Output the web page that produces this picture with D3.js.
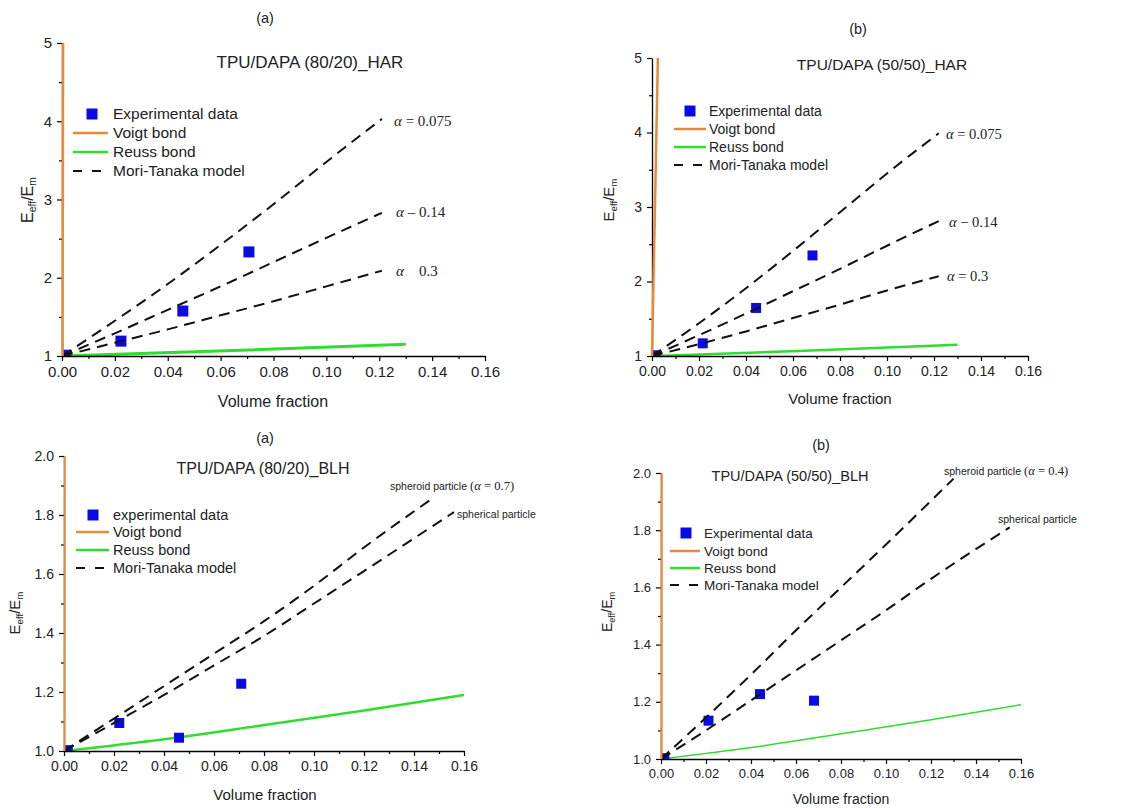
<!DOCTYPE html>
<html><head><meta charset="utf-8">
<script src="https://cdn.jsdelivr.net/npm/d3@7"></script>
<style>
body{margin:0;background:#fff;}
svg{display:block;font-family:"Liberation Sans",Arial,sans-serif;}
</style>
</head><body>
<svg id="chart" width="1121" height="808"></svg>
<script>
// ---------------- DATA ----------------
const xMajorTicks = [0, 0.02, 0.04, 0.06, 0.08, 0.10, 0.12, 0.14, 0.16];
const xMinorTicks = [0.01, 0.03, 0.05, 0.07, 0.09, 0.11, 0.13, 0.15];
const yMajorHAR = [1, 2, 3, 4, 5];
const yMinorHAR = [1.5, 2.5, 3.5, 4.5];
const yMajorBLH = [1.0, 1.2, 1.4, 1.6, 1.8, 2.0];
const yMinorBLH = [1.1, 1.3, 1.5, 1.7, 1.9];

const legendLabels = ["Experimental data", "Voigt bond", "Reuss bond", "Mori-Tanaka model"];
const legendLabelsLower = ["experimental data", "Voigt bond", "Reuss bond", "Mori-Tanaka model"];

// (a) TPU/DAPA (80/20)_HAR
const expHAR8020 = [[0.0015, 1.01], [0.0223, 1.19], [0.0457, 1.575], [0.0707, 2.33]];
const voigtHAR8020 = [[0.0002, 1], [0.0004, 5]];
const reussHAR8020 = [[0, 1], [0.065, 1.07], [0.13, 1.15]];
const mt075HAR8020 = [[0, 1], [0.02, 1.45], [0.04, 1.92], [0.06, 2.42], [0.08, 2.94], [0.10, 3.48], [0.121, 4.03]];
const mt014HAR8020 = [[0, 1], [0.02, 1.29], [0.04, 1.59], [0.06, 1.89], [0.08, 2.20], [0.10, 2.51], [0.121, 2.83]];
const mt03HAR8020 = [[0, 1], [0.02, 1.17], [0.04, 1.34], [0.06, 1.52], [0.08, 1.70], [0.10, 1.89], [0.121, 2.09]];

// (b) TPU/DAPA (50/50)_HAR
const expHAR5050 = [[0.0015, 1.01], [0.0216, 1.17], [0.0443, 1.645], [0.0683, 2.35]];
const voigtHAR5050 = [[0, 1], [0.0025, 5]];
const reussHAR5050 = [[0, 1], [0.065, 1.07], [0.13, 1.15]];
const mt075HAR5050 = [[0, 1], [0.02, 1.44], [0.04, 1.91], [0.06, 2.41], [0.08, 2.93], [0.10, 3.45], [0.122, 3.99]];
const mt014HAR5050 = [[0, 1], [0.02, 1.28], [0.04, 1.57], [0.06, 1.87], [0.08, 2.17], [0.10, 2.48], [0.122, 2.81]];
const mt03HAR5050 = [[0, 1], [0.02, 1.16], [0.04, 1.33], [0.06, 1.51], [0.08, 1.69], [0.10, 1.88], [0.122, 2.07]];

// (a) TPU/DAPA (80/20)_BLH
const expBLH8020 = [[0.0015, 1.003], [0.0221, 1.095], [0.046, 1.045], [0.0709, 1.228]];
const voigtBLH8020 = [[0.0002, 1], [0.0003, 2]];
const reussBLH8020 = [[0, 1], [0.04, 1.04], [0.08, 1.088], [0.12, 1.137], [0.16, 1.19]];
const mtSpheroidBLH8020 = [[0, 1], [0.02, 1.11], [0.04, 1.22], [0.06, 1.33], [0.08, 1.44], [0.10, 1.56], [0.12, 1.69], [0.148, 1.86]];
const mtSphericalBLH8020 = [[0, 1], [0.02, 1.095], [0.04, 1.19], [0.06, 1.29], [0.08, 1.39], [0.10, 1.50], [0.12, 1.61], [0.156, 1.81]];

// (b) TPU/DAPA (50/50)_BLH
const expBLH5050 = [[0.0015, 1.003], [0.0211, 1.134], [0.044, 1.227], [0.068, 1.204]];
const voigtBLH5050 = [[0.0002, 1], [0.0003, 2]];
const reussBLH5050 = [[0, 1], [0.04, 1.04], [0.08, 1.088], [0.12, 1.137], [0.16, 1.19]];
const mtSpheroidBLH5050 = [[0, 1], [0.02, 1.145], [0.04, 1.295], [0.06, 1.45], [0.08, 1.60], [0.10, 1.75], [0.13, 1.98]];
const mtSphericalBLH5050 = [[0, 1], [0.02, 1.10], [0.04, 1.205], [0.06, 1.31], [0.08, 1.415], [0.10, 1.52], [0.12, 1.63], [0.155, 1.81]];

// ---------------- LAYOUT / STYLE ----------------
const BLUE = "#0a0ae6", ORANGE = "#e8893c", GREEN = "#2fdc2f";
const SERIF = "'Liberation Serif','Times New Roman',serif";

const panels = [
  {
    left: 62, right: 485, top: 43, bottom: 356, yDomain: [1, 5],
    yMajor: yMajorHAR, yMinor: yMinorHAR, yFmt: d3.format("d"),
    tickFs: 15, letter: "(a)", letterPos: [265, 23], title: "TPU/DAPA (80/20)_HAR", titlePos: [310, 68], titleFs: 17,
    legend: { sq: [92, 114], lx1: 73, lx2: 108, tx: 113, ys: [114, 133, 152, 171], fs: 15.5, labels: legendLabels },
    xLabelPos: [273, 407], yLabelPos: [27, 200], axisFs: 16,
    exp: expHAR8020, voigt: voigtHAR8020, reuss: reussHAR8020,
    mt: [mt075HAR8020, mt014HAR8020, mt03HAR8020],
    voigtW: 2.5, reussW: 3, msize: 11,
    notes: [
      { kind: "alpha", pos: [394, 126], rest: " = 0.075", fs: 15 },
      { kind: "alpha", pos: [396, 217], rest: " \u2013 0.14", fs: 15 },
      { kind: "alpha", pos: [396, 276], rest: "    0.3", fs: 15 }
    ]
  },
  {
    left: 652, right: 1028, top: 58, bottom: 356, yDomain: [1, 5],
    yMajor: yMajorHAR, yMinor: yMinorHAR, yFmt: d3.format("d"),
    tickFs: 14, letter: "(b)", letterPos: [858, 34], title: "TPU/DAPA (50/50)_HAR", titlePos: [882, 70], titleFs: 15.5,
    legend: { sq: [690, 111], lx1: 674, lx2: 706, tx: 709, ys: [111, 129, 147, 165], fs: 14, labels: legendLabels },
    xLabelPos: [840, 404], yLabelPos: [609, 200], axisFs: 15,
    exp: expHAR5050, voigt: voigtHAR5050, reuss: reussHAR5050,
    mt: [mt075HAR5050, mt014HAR5050, mt03HAR5050],
    voigtW: 2.5, reussW: 2.5, msize: 10,
    notes: [
      { kind: "alpha", pos: [946, 139], rest: " = 0.075", fs: 14.5 },
      { kind: "alpha", pos: [949, 227], rest: " \u2212 0.14", fs: 14.5 },
      { kind: "alpha", pos: [947, 281], rest: " = 0.3", fs: 14.5 }
    ]
  },
  {
    left: 64, right: 464, top: 456, bottom: 751, yDomain: [1, 2],
    yMajor: yMajorBLH, yMinor: yMinorBLH, yFmt: d3.format(".1f"),
    tickFs: 14, letter: "(a)", letterPos: [265, 443], title: "TPU/DAPA (80/20)_BLH", titlePos: [263, 474], titleFs: 16,
    legend: { sq: [93, 515], lx1: 76, lx2: 109, tx: 113, ys: [515, 532, 550, 568], fs: 14.5, labels: legendLabelsLower },
    xLabelPos: [265, 800], yLabelPos: [15, 613], axisFs: 15,
    exp: expBLH8020, voigt: voigtBLH8020, reuss: reussBLH8020,
    mt: [mtSpheroidBLH8020, mtSphericalBLH8020],
    voigtW: 2, reussW: 2.5, msize: 10,
    notes: [
      { kind: "spheroid", pos: [390, 490], alphaText: " = 0.7)", fs: 10.5 },
      { kind: "plain", pos: [457, 518], text: "spherical particle", fs: 10.5 }
    ]
  },
  {
    left: 661, right: 1021, top: 473, bottom: 759, yDomain: [1, 2],
    yMajor: yMajorBLH, yMinor: yMinorBLH, yFmt: d3.format(".1f"),
    tickFs: 13, letter: "(b)", letterPos: [821, 450], title: "TPU/DAPA (50/50)_BLH", titlePos: [790, 481], titleFs: 14.5,
    legend: { sq: [686, 533], lx1: 670, lx2: 700, tx: 704, ys: [533, 551, 568, 585], fs: 13.5, labels: legendLabels },
    xLabelPos: [841, 804], yLabelPos: [607, 612], axisFs: 14,
    exp: expBLH5050, voigt: voigtBLH5050, reuss: reussBLH5050,
    mt: [mtSpheroidBLH5050, mtSphericalBLH5050],
    voigtW: 2, reussW: 1.5, msize: 10,
    notes: [
      { kind: "spheroid", pos: [944, 475], alphaText: " = 0.4)", fs: 10.5 },
      { kind: "plain", pos: [998, 523], text: "spherical particle", fs: 10.5 }
    ]
  }
];

const svg = d3.select("#chart");

panels.forEach((p, i) => {
  const x = d3.scaleLinear().domain([0, 0.16]).range([p.left, p.right]);
  const y = d3.scaleLinear().domain(p.yDomain).range([p.bottom, p.top]);
  const g = svg.append("g");

  const clipId = "clip" + i;
  svg.append("clipPath").attr("id", clipId).append("rect")
    .attr("x", p.left).attr("y", p.top - 2).attr("width", p.right - p.left + 2).attr("height", p.bottom - p.top + 2);

  const line = d3.line().x(d => x(d[0])).y(d => y(d[1])).curve(d3.curveMonotoneX);
  const plot = g.append("g").attr("clip-path", `url(#${clipId})`);

  // Reuss (green)
  plot.append("path").datum(p.reuss).attr("d", line)
    .attr("fill", "none").attr("stroke", GREEN).attr("stroke-width", p.reussW);

  // Experimental markers
  plot.selectAll("rect.exp").data(p.exp).enter().append("rect")
    .attr("x", d => x(d[0]) - p.msize / 2).attr("y", d => y(d[1]) - p.msize / 2)
    .attr("width", p.msize).attr("height", p.msize).attr("fill", BLUE);

  // Mori-Tanaka dashed curves
  p.mt.forEach(s => {
    plot.append("path").datum(s).attr("d", line)
      .attr("fill", "none").attr("stroke", "#111").attr("stroke-width", 2)
      .attr("stroke-dasharray", "11,7");
  });

  // Axes
  const xAxis = g.append("g").attr("transform", `translate(0,${p.bottom})`)
    .call(d3.axisBottom(x).tickValues(xMajorTicks).tickFormat(d3.format(".2f")).tickSize(5).tickSizeOuter(0).tickPadding(5));
  xAxis.append("g").call(d3.axisBottom(x).tickValues(xMinorTicks).tickFormat("").tickSize(3).tickSizeOuter(0))
    .select(".domain").remove();
  const yAxis = g.append("g").attr("transform", `translate(${p.left},0)`)
    .call(d3.axisLeft(y).tickValues(p.yMajor).tickFormat(p.yFmt).tickSize(5).tickSizeOuter(0).tickPadding(5));
  yAxis.append("g").call(d3.axisLeft(y).tickValues(p.yMinor).tickFormat("").tickSize(3).tickSizeOuter(0))
    .select(".domain").remove();
  [xAxis, yAxis].forEach(a => {
    a.selectAll("text").attr("font-size", p.tickFs).attr("font-family", "'Liberation Sans',Arial,sans-serif").attr("fill", "#222");
    a.selectAll("path.domain").attr("stroke", "#000").attr("stroke-width", 1.3);
    a.selectAll("line").attr("stroke", "#000").attr("stroke-width", 1.2);
  });

  // Voigt (orange), drawn over the axis line as in the reference
  g.append("path").datum(p.voigt).attr("d", d3.line().x(d => x(d[0])).y(d => y(d[1])))
    .attr("fill", "none").attr("stroke", ORANGE).attr("stroke-width", p.voigtW);

  // Letter and title
  g.append("text").attr("x", p.letterPos[0]).attr("y", p.letterPos[1]).attr("text-anchor", "middle")
    .attr("font-size", 14.5).attr("fill", "#222").text(p.letter);
  g.append("text").attr("x", p.titlePos[0]).attr("y", p.titlePos[1]).attr("text-anchor", "middle")
    .attr("font-size", p.titleFs).attr("fill", "#222").text(p.title);

  // Axis labels
  g.append("text").attr("x", p.xLabelPos[0]).attr("y", p.xLabelPos[1]).attr("text-anchor", "middle")
    .attr("font-size", p.axisFs).attr("fill", "#222").text("Volume fraction");
  const yl = g.append("text").attr("transform", `translate(${p.yLabelPos[0]},${p.yLabelPos[1]}) rotate(-90)`)
    .attr("text-anchor", "middle").attr("font-size", p.axisFs).attr("fill", "#222").attr("dy", "0.35em");
  yl.append("tspan").text("E");
  yl.append("tspan").attr("font-size", p.axisFs * 0.65).attr("dy", 3).text("eff");
  yl.append("tspan").attr("dy", -3).text("/E");
  yl.append("tspan").attr("font-size", p.axisFs * 0.65).attr("dy", 3).text("m");

  // Legend
  const L = p.legend;
  g.append("rect").attr("x", L.sq[0] - 5.5).attr("y", L.sq[1] - 5.5).attr("width", 11).attr("height", 11).attr("fill", BLUE);
  g.append("line").attr("x1", L.lx1).attr("x2", L.lx2).attr("y1", L.ys[1]).attr("y2", L.ys[1])
    .attr("stroke", ORANGE).attr("stroke-width", 2.5);
  g.append("line").attr("x1", L.lx1).attr("x2", L.lx2).attr("y1", L.ys[2]).attr("y2", L.ys[2])
    .attr("stroke", GREEN).attr("stroke-width", 2.5);
  g.append("line").attr("x1", L.lx1).attr("x2", L.lx2).attr("y1", L.ys[3]).attr("y2", L.ys[3])
    .attr("stroke", "#111").attr("stroke-width", 2.2).attr("stroke-dasharray", "9,10");
  L.labels.forEach((t, k) => {
    g.append("text").attr("x", L.tx).attr("y", L.ys[k]).attr("dy", "0.35em")
      .attr("font-size", L.fs).attr("fill", "#222").text(t);
  });

  // Annotations
  p.notes.forEach(n => {
    if (n.kind === "alpha") {
      const t = g.append("text").attr("x", n.pos[0]).attr("y", n.pos[1]).attr("font-family", SERIF)
        .attr("font-size", n.fs).attr("fill", "#222");
      t.append("tspan").attr("font-style", "italic").text("\u03b1");
      t.append("tspan").attr("xml:space", "preserve").style("white-space", "pre").text(n.rest);
    } else if (n.kind === "spheroid") {
      const t = g.append("text").attr("x", n.pos[0]).attr("y", n.pos[1]).attr("font-size", n.fs).attr("fill", "#222");
      t.append("tspan").text("spheroid particle ");
      t.append("tspan").attr("font-family", SERIF).attr("font-size", n.fs * 1.2).text("(");
      t.append("tspan").attr("font-family", SERIF).attr("font-style", "italic").attr("font-size", n.fs * 1.2).text("\u03b1");
      t.append("tspan").attr("font-family", SERIF).attr("font-size", n.fs * 1.2).text(n.alphaText);
    } else {
      g.append("text").attr("x", n.pos[0]).attr("y", n.pos[1]).attr("font-size", n.fs).attr("fill", "#222").text(n.text);
    }
  });
});
</script>
</body></html>
